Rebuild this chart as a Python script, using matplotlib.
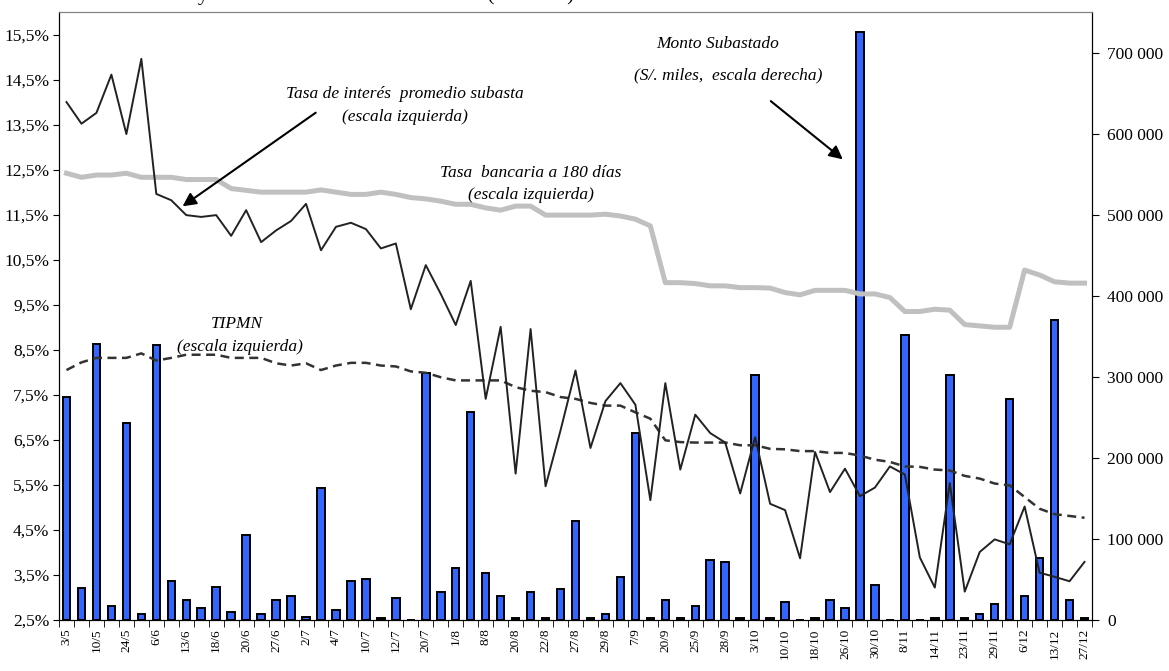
import matplotlib
matplotlib.use('Agg')
import matplotlib.pyplot as plt
from matplotlib.ticker import FuncFormatter
import numpy as np

plt.rcParams['font.family'] = ['Liberation Serif', 'DejaVu Serif']

# fechas de subasta (una etiqueta cada dos subastas)
fechas = ['3/5', '10/5', '24/5', '6/6', '13/6', '18/6', '20/6', '27/6', '2/7', '4/7',
          '10/7', '12/7', '20/7', '1/8', '8/8', '20/8', '22/8', '27/8', '29/8', '7/9',
          '20/9', '25/9', '28/9', '3/10', '10/10', '18/10', '26/10', '30/10', '8/11', '14/11',
          '23/11', '29/11', '6/12', '13/12', '27/12']

# monto subastado, S/. miles (escala derecha)
monto = [275000, 40000, 341000, 17700, 243000, 7400, 339000, 48000, 24700, 14400,
         40300, 9500, 105000, 7400, 24700, 30000, 4100, 163000, 12300, 48000,
         50600, 2500, 27500, 0, 305000, 35000, 63700, 256000, 58400, 30000,
         2500, 35000, 2500, 37800, 122500, 2500, 7000, 53400, 231000, 2500,
         24700, 2500, 17300, 74000, 71000, 2500, 302000, 2500, 22600, 0,
         2500, 24700, 14400, 725000, 43200, 0, 351000, 0, 2500, 302000,
         2500, 7000, 19700, 272000, 30000, 76800, 370000, 24700, 2500]

# tasa de interes promedio subasta, %
tasa_subasta = [14.00, 13.52, 13.76, 14.61, 13.29, 14.96, 11.96, 11.82, 11.49, 11.45,
                11.49, 11.03, 11.60, 10.89, 11.15, 11.36, 11.74, 10.71, 11.23, 11.32,
                11.18, 10.75, 10.86, 9.40, 10.38, 9.74, 9.05, 10.03, 7.41, 9.01,
                5.75, 8.96, 5.47, 6.71, 8.04, 6.32, 7.36, 7.76, 7.28, 5.16,
                7.76, 5.84, 7.06, 6.65, 6.44, 5.31, 6.56, 5.08, 4.94, 3.87,
                6.23, 5.34, 5.86, 5.25, 5.44, 5.91, 5.73, 3.89, 3.22, 5.54,
                3.13, 4.01, 4.29, 4.18, 5.02, 3.55, 3.46, 3.36, 3.79]

# tasa bancaria a 180 dias, %
tasa_180 = [12.42, 12.33, 12.38, 12.38, 12.42, 12.33, 12.33, 12.33, 12.28, 12.28,
            12.28, 12.08, 12.04, 12.00, 12.00, 12.00, 12.00, 12.05, 12.00, 11.95,
            11.95, 12.00, 11.95, 11.88, 11.85, 11.80, 11.73, 11.73, 11.65, 11.60,
            11.69, 11.69, 11.49, 11.49, 11.49, 11.49, 11.51, 11.47, 11.40, 11.25,
            9.99, 9.99, 9.97, 9.92, 9.92, 9.88, 9.88, 9.87, 9.77, 9.72,
            9.82, 9.82, 9.82, 9.74, 9.74, 9.66, 9.35, 9.35, 9.40, 9.38,
            9.06, 9.03, 9.00, 9.00, 10.27, 10.16, 10.01, 9.98, 9.98]

# TIPMN, %
tipmn = [8.05, 8.22, 8.32, 8.32, 8.32, 8.42, 8.26, 8.32, 8.39, 8.39,
         8.39, 8.32, 8.32, 8.32, 8.20, 8.15, 8.20, 8.05, 8.15, 8.21,
         8.21, 8.15, 8.13, 8.02, 7.99, 7.89, 7.82, 7.82, 7.82, 7.82,
         7.67, 7.59, 7.56, 7.45, 7.41, 7.32, 7.26, 7.26, 7.11, 6.97,
         6.49, 6.45, 6.44, 6.44, 6.44, 6.38, 6.38, 6.30, 6.29, 6.25,
         6.25, 6.21, 6.21, 6.15, 6.06, 6.01, 5.91, 5.90, 5.84, 5.82,
         5.70, 5.64, 5.53, 5.49, 5.23, 4.97, 4.85, 4.81, 4.77]

x = np.arange(len(monto))

fig = plt.figure(figsize=(11.69, 6.71), dpi=100)
ax = fig.add_axes([59 / 1169, 51 / 671, 1033 / 1169, 608 / 671])
ax2 = ax.twinx()

# barras en el eje derecho, lineas encima
ax2.bar(x, monto, width=0.5, color='#3366FF', edgecolor='black', linewidth=1.4)
ax2.set_ylim(0, 750000)
ax.set_zorder(ax2.get_zorder() + 1)
ax.patch.set_visible(False)

ax.plot(x, tasa_180, color='#C0C0C0', lw=3.6)
ax.plot(x, tipmn, color='#333333', lw=1.8, dashes=(3.6, 2.2))
ax.plot(x, tasa_subasta, color='#222222', lw=1.4)

ax.set_xlim(-0.5, len(monto) - 0.5)
ax.set_ylim(2.5, 16.0)

ax.set_yticks(np.arange(2.5, 15.6, 1.0))
ax.yaxis.set_major_formatter(FuncFormatter(lambda v, p: f'{v:.1f}'.replace('.', ',') + '%'))
ax2.set_yticks(range(0, 700001, 100000))
ax2.yaxis.set_major_formatter(FuncFormatter(lambda v, p: f'{int(v):,}'.replace(',', ' ')))

ax.set_xticks(x[::2])
ax.set_xticklabels(fechas, rotation=90, fontsize=9.5)
ax.set_xticks(np.arange(-0.5, len(monto), 1), minor=True)
ax.tick_params(axis='x', which='major', length=0, pad=6)
ax.tick_params(axis='x', which='minor', length=5, direction='out')
ax.tick_params(axis='y', length=4, direction='out', labelsize=12.5, pad=3)
ax2.tick_params(axis='y', length=5, direction='out', labelsize=12.5, pad=6)

for a in (ax, ax2):
    a.spines['top'].set_color('#808080')
    for s in ('left', 'right', 'bottom'):
        a.spines[s].set_color('black')

# textos y flechas
kw = dict(ha='center', va='center', style='italic', fontsize=12.5)
ax.text(22.6, 14.17, 'Tasa de interés  promedio subasta', **kw)
ax.text(22.6, 13.66, '(escala izquierda)', **kw)
ax.annotate('', xy=(7.6, 11.65), xytext=(16.8, 13.8),
            arrowprops=dict(arrowstyle='-|>', color='black', lw=1.5, mutation_scale=20))

ax.text(31.0, 12.42, 'Tasa  bancaria a 180 días', **kw)
ax.text(31.0, 11.94, '(escala izquierda)', **kw)

ax.text(11.4, 9.08, 'TIPMN', **kw)
ax.text(11.6, 8.57, '(escala izquierda)', **kw)

ax.text(43.5, 15.3, 'Monto Subastado', **kw)
ax.text(44.2, 14.59, '(S/. miles,  escala derecha)', **kw)
ax.annotate('', xy=(52.0, 12.69), xytext=(46.9, 14.06),
            arrowprops=dict(arrowstyle='-|>', color='black', lw=1.5, mutation_scale=20))

# titulo cortado en el borde superior (solo se ven los trazos inferiores)
fig.text(49 / 1169, 1.0, 'Monto subastado y tasas de interés de los CDBCRP (S/. miles)',
         ha='left', va='baseline', fontsize=15)

fig.savefig('out.png', dpi=100)
